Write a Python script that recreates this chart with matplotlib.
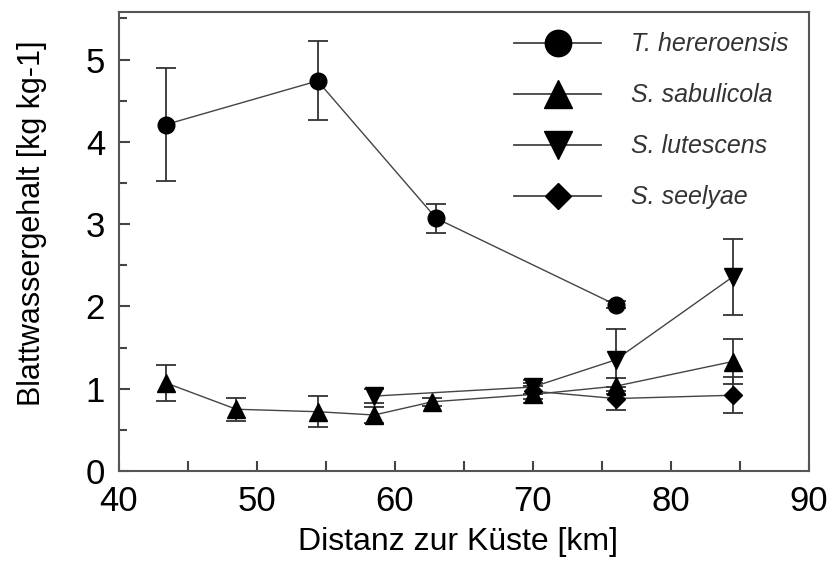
import matplotlib
matplotlib.use("Agg")
import matplotlib.pyplot as plt
from matplotlib.ticker import MultipleLocator
from matplotlib.lines import Line2D

plt.rcParams['font.family'] = ['Liberation Sans', 'DejaVu Sans']

# T. hereroensis
th_x = [43.4, 54.4, 63.0, 76.0]
th_y = [4.21, 4.74, 3.07, 2.02]
th_e = [0.69, 0.48, 0.18, 0.04]

# S. sabulicola
ss_x = [43.4, 48.5, 54.4, 58.5, 62.7, 70.0, 76.0, 84.5]
ss_y = [1.07, 0.75, 0.72, 0.68, 0.84, 0.93, 1.03, 1.33]
ss_e = [0.22, 0.14, 0.19, 0.10, 0.05, 0.10, 0.10, 0.27]

# S. lutescens
sl_x = [58.5, 70.0, 76.0, 84.5]
sl_y = [0.91, 1.02, 1.35, 2.36]
sl_e = [0.08, 0.08, 0.38, 0.46]

# S. seelyae
se_x = [70.0, 76.0, 84.5]
se_y = [0.97, 0.88, 0.92]
se_e = [0.10, 0.14, 0.22]

labels = ['T. hereroensis', 'S. sabulicola', 'S. lutescens', 'S. seelyae']

fig = plt.figure(figsize=(8.32, 5.62), dpi=100)
ax = fig.add_axes([0.143, 0.162, 0.829, 0.817])

lc = '#333333'
common = dict(color='black', ecolor=lc, elinewidth=1.3, capsize=7.5, capthick=1.3,
              linewidth=1.0, markeredgecolor='black', markerfacecolor='black')
h1 = ax.errorbar(th_x, th_y, yerr=th_e, fmt='-o', markersize=12, **common)
h2 = ax.errorbar(ss_x, ss_y, yerr=ss_e, fmt='-^', markersize=12.5, **common)
h3 = ax.errorbar(sl_x, sl_y, yerr=sl_e, fmt='-v', markersize=12.5, **common)
h4 = ax.errorbar(se_x, se_y, yerr=se_e, fmt='-D', markersize=9, **common)
for h in (h1, h2, h3, h4):
    h[0].set_color('#444444')
    h[0].set_markerfacecolor('black')
    h[0].set_markeredgecolor('black')

ax.set_xlim(40, 90)
ax.set_ylim(0, 5.58)
ax.xaxis.set_major_locator(MultipleLocator(10))
ax.xaxis.set_minor_locator(MultipleLocator(5))
ax.yaxis.set_major_locator(MultipleLocator(1))
ax.yaxis.set_minor_locator(MultipleLocator(0.5))
ax.tick_params(axis='both', which='both', direction='in', color='#444444', width=1.5)
ax.tick_params(axis='x', which='both', length=7, pad=10, labelsize=25)
ax.tick_params(axis='y', which='major', length=8, pad=10, labelsize=25)
ax.tick_params(axis='y', which='minor', length=6)
for s in ax.spines.values():
    s.set_color('#555555')
    s.set_linewidth(1.5)

ax.set_xlabel('Distanz zur Küste [km]', fontsize=23)
ax.set_ylabel('Blattwassergehalt [kg kg-1]', fontsize=22)
ax.xaxis.set_label_coords(0.491, -0.122)
ax.yaxis.set_label_coords(-0.104, 0.54)

handles = [Line2D([], [], color='#444444', linewidth=1.3, marker=m, markersize=ms,
                  markerfacecolor='black', markeredgecolor='black')
           for m, ms in [('o', 19), ('^', 20), ('v', 20), ('D', 13.5)]]
leg = ax.legend(handles, labels, loc='upper right', frameon=False,
                prop={'style': 'italic', 'size': 18}, handlelength=3.45,
                labelspacing=1.08, handletextpad=1.2, borderpad=0.2,
                borderaxespad=0.62)
for t in leg.get_texts():
    t.set_color('#333333')

fig.savefig('out.png', dpi=100)
